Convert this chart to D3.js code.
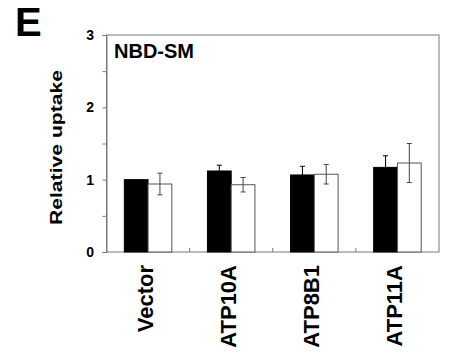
<!DOCTYPE html>
<html>
<head>
<meta charset="utf-8">
<script src="https://cdn.jsdelivr.net/npm/d3@7"></script>
<style>
  body { margin: 0; background: #fff; }
  text { font-family: "Liberation Sans", Arial, sans-serif; font-weight: bold; }
</style>
</head>
<body>
<svg id="chart" width="451" height="357"></svg>
<script>
// values
const categories = ['Vector', 'ATP10A', 'ATP8B1', 'ATP11A']
const blackValues = [1.00, 1.12, 1.065, 1.17]
const blackErrors = [0, 0.08, 0.12, 0.16]
const whiteValues = [0.94, 0.93, 1.075, 1.23]
const whiteErrors = [0.15, 0.10, 0.135, 0.27]
const yTickLabels = [0, 1, 2, 3]
const yMinorTicks = [0, 0.5, 1, 1.5, 2, 2.5, 3]

const plotLeft = 106.5, plotRight = 439, plotTop = 35, plotBottom = 252
const axisColor = '#7a7a7a'

const svg = d3.select('#chart')

const x0 = d3.scaleBand().domain(categories).range([plotLeft, plotRight]).padding(0)
const x1 = d3.scaleBand().domain(['black', 'white']).range([0, x0.bandwidth()])
  .paddingInner(0).paddingOuter(0.75)
const y = d3.scaleLinear().domain([0, 3]).range([plotBottom, plotTop])

// panel letter
svg.append('text').attr('x', 15).attr('y', 36)
  .style('font-size', '40px').text('E')

// frame
svg.append('rect')
  .attr('x', plotLeft).attr('y', plotTop)
  .attr('width', plotRight - plotLeft).attr('height', plotBottom - plotTop)
  .attr('fill', 'none').attr('stroke', axisColor).attr('stroke-width', 1)

// y axis
const yAxis = svg.append('g')
  .attr('transform', 'translate(' + plotLeft + ',0)')
  .call(d3.axisLeft(y).tickValues(yMinorTicks).tickSize(4).tickFormat(''))
yAxis.select('.domain').attr('stroke', axisColor)
yAxis.selectAll('.tick line').attr('stroke', axisColor)

svg.selectAll('.ylab')
  .data(yTickLabels)
  .enter().append('text')
  .attr('class', 'ylab')
  .attr('x', 94)
  .attr('y', d => y(d))
  .attr('dy', '0.36em')
  .attr('text-anchor', 'end')
  .style('font-size', '14px')
  .text(d => d)

svg.append('text')
  .attr('transform', 'translate(61.5,147.5) rotate(-90)')
  .attr('text-anchor', 'middle')
  .attr('textLength', 155)
  .attr('lengthAdjust', 'spacingAndGlyphs')
  .style('font-size', '17px')
  .text('Relative uptake')

// x ticks between groups (inward)
svg.selectAll('.xtick')
  .data(categories.slice(1))
  .enter().append('line')
  .attr('x1', d => x0(d)).attr('x2', d => x0(d))
  .attr('y1', plotBottom).attr('y2', plotBottom - 4)
  .attr('stroke', axisColor)

// bars
const groups = svg.selectAll('.grp')
  .data(categories)
  .enter().append('g')
  .attr('transform', d => 'translate(' + x0(d) + ',0)')

groups.append('rect')
  .attr('x', x1('black'))
  .attr('y', (d, i) => y(blackValues[i]))
  .attr('width', x1.bandwidth())
  .attr('height', (d, i) => plotBottom - y(blackValues[i]))
  .attr('fill', '#000').attr('stroke', '#000')

groups.append('rect')
  .attr('x', x1('white'))
  .attr('y', (d, i) => y(whiteValues[i]))
  .attr('width', x1.bandwidth())
  .attr('height', (d, i) => plotBottom - y(whiteValues[i]))
  .attr('fill', '#fff').attr('stroke', '#555')

// error bars
function errorBars(key, vals, errs) {
  const cx = x1(key) + x1.bandwidth() / 2
  const sel = groups.filter((d, i) => errs[i] > 0)
  const v = d => vals[categories.indexOf(d)]
  const e = d => errs[categories.indexOf(d)]
  sel.append('line')
    .attr('x1', cx).attr('x2', cx)
    .attr('y1', d => y(v(d) + e(d)))
    .attr('y2', d => y(v(d) - e(d)))
    .attr('stroke', key === 'black' ? '#000' : '#444')
  ;[1, -1].forEach(s => {
    sel.append('line')
      .attr('x1', cx - 2.5).attr('x2', cx + 2.5)
      .attr('y1', d => y(v(d) + s * e(d)))
      .attr('y2', d => y(v(d) + s * e(d)))
      .attr('stroke', key === 'black' ? '#000' : '#444')
  })
}
errorBars('black', blackValues, blackErrors)
errorBars('white', whiteValues, whiteErrors)

// category labels
svg.selectAll('.xlab')
  .data(categories)
  .enter().append('text')
  .attr('class', 'xlab')
  .attr('transform', d => 'translate(' + (x0(d) + x0.bandwidth() / 2 + 5) + ',265) rotate(-90)')
  .attr('text-anchor', 'end')
  .style('font-size', '22px')
  .text(d => d)

// inset title
svg.append('text').attr('x', 114).attr('y', 58)
  .style('font-size', '20px').text('NBD-SM')
</script>
</body>
</html>
